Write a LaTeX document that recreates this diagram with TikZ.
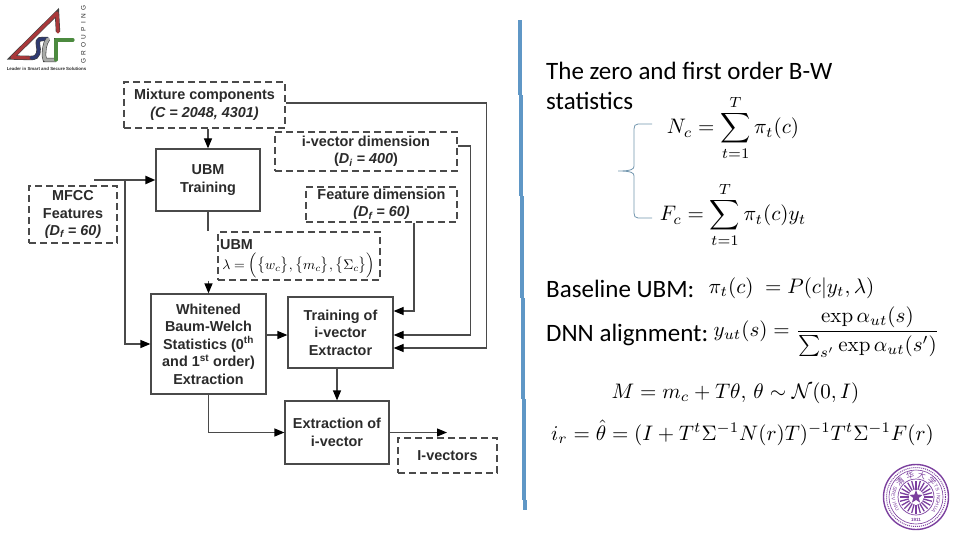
\documentclass[tikz,border=0pt]{standalone}
\usepackage{amsmath,amssymb}
\usepackage[no-math]{fontspec}
\usetikzlibrary{arrows.meta, shapes.geometric, positioning}
\newfontfamily\slidefont{Carlito}
\newfontfamily\diagfont{Liberation Sans}
\newfontfamily\sealfont{Noto Sans CJK SC}
\definecolor{slideblue}{HTML}{5F97C6}
\definecolor{bracegray}{HTML}{7195AD}
\definecolor{sealpurple}{HTML}{7B3F9E}
\definecolor{logored}{HTML}{A8383A}
\definecolor{logonavy}{HTML}{2F3A70}
\definecolor{logogray}{HTML}{A9ABA8}
\definecolor{logogreen}{HTML}{4C8A3F}
\definecolor{inkgray}{HTML}{2B2B2B}
\definecolor{linegray}{HTML}{4A4A4A}

\begin{document}
\begin{tikzpicture}[
  x=1pt, y=-1pt,
  >={Stealth[inset=0pt,length=10pt,width=8pt,black]},
  solidbox/.style={rectangle, draw=linegray, line width=1.2pt, fill=white, inner sep=0pt,
    align=center, text=inkgray, font=\diagfont\fontsize{14.4}{17.5}\selectfont\bfseries},
  dashbox/.style={solidbox, line width=1.3pt, dash pattern=on 7pt off 4pt},
  arr/.style={->, draw=linegray, line width=1.2pt},
  plainline/.style={draw=linegray, line width=1.2pt},
  slidetext/.style={anchor=base west, inner sep=0pt, font=\slidefont\fontsize{25}{29}\selectfont},
  eqn/.style={inner sep=0pt, scale=2.1},
  logoline/.style={line width=3.2pt, line cap=round, line join=round,
    preaction={draw=black!75, line width=4.4pt}},
  sealglyph/.style={text=sealpurple, inner sep=0pt}
]
\useasboundingbox (0,0) rectangle (960,540);

% ---- Flow chart boxes ----
\node[dashbox, minimum width=161pt, minimum height=46pt] (mix) at (204.5,105) {Mixture components\\{\itshape (C = 2048, 4301)}};
\node[solidbox, minimum width=104pt, minimum height=62pt] (ubmt) at (208,180) {UBM\\Training};
\node[dashbox, minimum width=88pt, minimum height=57pt] (mfcc) at (73,214.5) {MFCC\\Features\\{\itshape (D\textsubscript{f} = 60)}};
\node[dashbox, minimum width=182pt, minimum height=39pt] (idim) at (366,151.5) {i-vector dimension\\(\textit{D\textsubscript{i} = 400})};
\node[dashbox, minimum width=151pt, minimum height=35pt] (fdim) at (381.5,204.5) {Feature dimension\\{\itshape (D\textsubscript{f} = 60)}};
\node[dashbox, minimum width=162pt, minimum height=48pt] (ubm) at (299,256) {};
\node[text=inkgray, font=\diagfont\fontsize{14.4}{17.5}\selectfont\bfseries, anchor=base west, inner sep=0pt] (ubmname) at (220,249) {UBM};
\node[eqn, scale=0.66, anchor=base west] (ubmeq) at (222,269) {$\lambda=\Bigl(\bigl\{w_c\bigr\},\bigl\{m_c\bigr\},\bigl\{\Sigma_c\bigr\}\Bigr)$};
\node[solidbox, minimum width=115pt, minimum height=100pt] (whit) at (208.5,344) {Whitened\\Baum-Welch\\Statistics (0\textsuperscript{th}\\and 1\textsuperscript{st} order)\\Extraction};
\node[solidbox, minimum width=105pt, minimum height=71pt] (train) at (340.5,332.5) {Training of\\i-vector\\Extractor};
\node[solidbox, minimum width=104pt, minimum height=63pt] (extr) at (337,432.5) {Extraction of\\i-vector};
\node[dashbox, minimum width=99pt, minimum height=35pt] (ivec) at (447.5,455.5) {I-vectors};

% ---- Free ends and bus lines ----
\coordinate (mfccin) at (94,180);
\coordinate (mfccbranch) at (125,180);
\coordinate (mixbus) at (486.5,348);
\coordinate (idimbus) at (470.5,335);
\coordinate (ivecout) at (447,432.5);

% ---- Connectors ----
\draw[arr] (ubmt.north |- mix.south) -- (ubmt.north);
\draw[arr, line width=2.2pt] (mfccin) -- (ubmt.west);
\draw[arr] (mfccbranch) |- (whit.west);
\draw[plainline] (ubmt.south) -- (ubmt.south |- ubm.north);
\draw[arr] (whit.north |- ubm.south) -- (whit.north);
\draw[arr] ([yshift=2pt]mix.east) -| (mixbus) -- ([yshift=-15.5pt]train.east);
\draw[arr] ([yshift=5.5pt]idim.east) -| (idimbus) -- ([yshift=-2.5pt]train.east);
\draw[arr] ([xshift=32.5pt]fdim.south) |- ([yshift=21.5pt]train.east);
\draw[arr] ([yshift=-2.5pt]train.west -| whit.east) -- ([yshift=-2.5pt]train.west);
\draw[arr] (extr.north |- train.south) -- (extr.north);
\draw[arr] (whit.south) |- (extr.west);
\draw[arr] (extr.east) -- (ivecout);

% ---- Slide divider ----
\foreach \xa/\ya/\yb in {520/20/95, 521/95/196, 522/196/298, 523/298/399, 524/399/500, 525/500/510}
  \fill[slideblue] (\xa-2,\ya) rectangle (\xa+2,\yb);

% ---- Right column text ----
\node[slidetext] (bwline) at (546,79.5) {The zero and first order B-W};
\node[slidetext] (bwstat) at (546,109.5) {statistics};
\node[slidetext] (baseub) at (546,297) {Baseline UBM:};
\node[slidetext] (dnnal) at (546,341) {DNN alignment:};

% ---- Equations ----
\node[eqn] (eqnc) at (733,128) {$\displaystyle N_c=\sum_{t=1}^{T}\pi_t(c)$};
\node[eqn] (eqfc) at (733,215) {$\displaystyle F_c=\sum_{t=1}^{T}\pi_t(c)y_t$};
\node[eqn] (eqpi) at (791.5,288) {$\pi_t(c)\;=P(c|y_t,\lambda)$};
\node[eqn] (eqdnn) at (826.5,332) {$\displaystyle y_{ut}(s)=\frac{\exp\alpha_{ut}(s)}{\sum_{s'}\exp\alpha_{ut}(s')}$};
\node[eqn] (eqm) at (735.5,393) {$M=m_c+T\theta,\,\theta\sim\mathcal{N}(0,I)$};
\node[eqn] (eqir) at (742.5,433) {$i_r=\hat{\theta}=(I+T^t\Sigma^{-1}N(r)T)^{-1}T^t\Sigma^{-1}F(r)$};

% ---- Brace ----
\draw[bracegray, line width=0.8pt] (652,124) -- (638,124) .. controls (635,124) and (634,126) .. (634,129)
  -- (634,166) .. controls (634,169) and (632,171) .. (618,171)
  .. controls (632,171) and (634,173) .. (634,176) -- (634,213)
  .. controls (634,216) and (635,218) .. (638,218) -- (652,218);

% ---- Logo ----
\draw[logoline, logored] (58,32) -- (57,13) -- (12,57.5) -- (31,58);
\draw[logoline, logonavy] (31,58) .. controls (40,58) and (39,50) .. (38,45) .. controls (37,38) and (40,39) .. (48,39);
\draw[logoline, logogray] (48,39) .. controls (44,44) and (44,52) .. (44,56) -- (45,60) -- (56,60);
\draw[logoline, logogreen] (56,60) -- (56,40) -- (73,40);
\node[font=\diagfont\fontsize{6.5}{6.5}\selectfont, rotate=90, text=inkgray, inner sep=0pt] (logoname) at (83.5,34.5) {G\,\,\,R\,\,\,O\,\,\,U\,\,\,P\,\,\,I\,\,\,N\,\,\,G};
\node[font=\diagfont\fontsize{4.4}{5}\selectfont\bfseries, text=inkgray, inner sep=0pt] (logotag) at (46.5,69) {Leader in Smart and Secure Solutions};

% ---- Seal ----
\begin{scope}[shift={(916,497)}]
  \draw[sealpurple, line width=1.4pt] (0,0) circle (32.5pt);
  \draw[sealpurple, line width=1pt, densely dotted] (0,0) circle (29.5pt);
  \draw[sealpurple, line width=0.6pt] (0,0) circle (27pt);
  \draw[sealpurple, line width=0.7pt] (0,0) circle (18pt);
  \foreach \a in {0,15,...,345}
    \draw[sealpurple, line width=1.3pt] (\a:7.5pt) -- (\a:16.5pt);
  \node[star, star points=5, star point ratio=2.4, fill=sealpurple, minimum size=14pt, inner sep=0pt] (sealstar) at (0,0) {};
  \foreach \g/\a in {清/135, 华/105, 大/75, 学/45}
    \node[sealglyph, rotate=\a-90, font=\sealfont\fontsize{8}{8}\selectfont] at (\a:22.5pt) {\g};
  \foreach \g/\a in {T/28, S/18, I/9, N/0, G/-9, H/-18, U/-28, A/-38}
    \node[sealglyph, rotate=\a-90, font=\diagfont\fontsize{5}{5}\selectfont] at (\a:22.5pt) {\g};
  \foreach \g/\a in {U/212, N/203, I/194, V/185, E/176, R/167, S/158}
    \node[sealglyph, rotate=\a-270, font=\diagfont\fontsize{5}{5}\selectfont] at (\a:22.5pt) {\g};
  \node[sealglyph, font=\diagfont\fontsize{4.5}{5}\selectfont\bfseries] (sealyear) at (0,23) {1911};
\end{scope}
\end{tikzpicture}
\end{document}
